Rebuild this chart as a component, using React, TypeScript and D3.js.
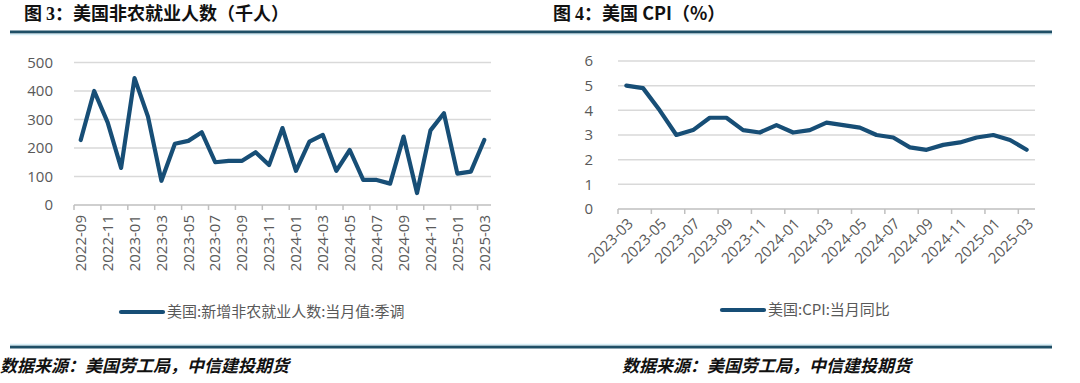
import React from "react";
import * as d3 from "d3";

const nfpMonths = [
  "2022-09","2022-10","2022-11","2022-12","2023-01","2023-02","2023-03","2023-04","2023-05","2023-06",
  "2023-07","2023-08","2023-09","2023-10","2023-11","2023-12","2024-01","2024-02","2024-03","2024-04",
  "2024-05","2024-06","2024-07","2024-08","2024-09","2024-10","2024-11","2024-12","2025-01","2025-02","2025-03",
];
const nfpValues = [
  228, 400, 290, 130, 445, 310, 85, 215, 225, 255,
  150, 155, 155, 185, 140, 270, 120, 222, 246, 120,
  193, 88, 88, 75, 240, 42, 262, 322, 110, 117, 228,
];
const nfpTicks = [0, 100, 200, 300, 400, 500];

const cpiMonths = [
  "2023-03","2023-04","2023-05","2023-06","2023-07","2023-08","2023-09","2023-10","2023-11","2023-12",
  "2024-01","2024-02","2024-03","2024-04","2024-05","2024-06","2024-07","2024-08","2024-09","2024-10",
  "2024-11","2024-12","2025-01","2025-02","2025-03",
];
const cpiValues = [
  5.0, 4.9, 4.0, 3.0, 3.2, 3.7, 3.7, 3.2, 3.1, 3.4,
  3.1, 3.2, 3.5, 3.4, 3.3, 3.0, 2.9, 2.5, 2.4, 2.6,
  2.7, 2.9, 3.0, 2.8, 2.4,
];
const cpiTicks = [0, 1, 2, 3, 4, 5, 6];

const LINE = "#174e76";
const GRID = "#d9d9d9";
const AXIS = "#bfbfbf";
const LABEL = "#595959";
const RULE = "#1f4f66";
const NUMFONT = "'Open Sans', 'Noto Sans', sans-serif";
const CJK = "'Noto Sans CJK SC', sans-serif";
const SERIF = "'Liberation Serif', serif";

function LineChart(props: {
  months: string[];
  values: number[];
  ticks: number[];
  x0: number; x1: number; y0: number; y1: number;
  labelRight: number;
  rotate: number;
  legend: string;
  legendX: number;
  legendY: number;
}) {
  const { months, values, ticks, x0, x1, y0, y1, labelRight, rotate, legend, legendX, legendY } = props;
  const x = d3.scaleBand<string>().domain(months).range([x0, x1]).padding(0);
  const y = d3.scaleLinear().domain([ticks[0], ticks[ticks.length - 1]]).range([y0, y1]);
  const bw = x.bandwidth();
  const line = d3
    .line<number>()
    .x((_, i) => (x(months[i]) as number) + bw / 2)
    .y((d) => y(d))
    .curve(d3.curveLinear);
  const labelIdx = months.map((_, i) => i).filter((i) => i % 2 === 0);
  return (
    <g>
      {ticks.map((t) => (
        <g key={t}>
          {t !== ticks[0] && (
            <line x1={x0} x2={x1} y1={y(t)} y2={y(t)} stroke={GRID} strokeWidth={1.5} />
          )}
          <text x={labelRight} y={y(t)} dy="0.35em" textAnchor="end" fontFamily={NUMFONT} fontSize={15} fill={LABEL}>
            {t}
          </text>
        </g>
      ))}
      <line x1={x0} x2={x1} y1={y0} y2={y0} stroke={AXIS} strokeWidth={1.5} />
      {labelIdx.map((i) => (
        <line key={"t" + i} x1={x(months[i]) as number} x2={x(months[i]) as number} y1={y0} y2={y0 + 5} stroke={AXIS} strokeWidth={1.5} />
      ))}
      {labelIdx.map((i) => {
        const cx = (x(months[i]) as number) + bw / 2;
        if (rotate === -90) {
          return (
            <text key={"l" + i} transform={`translate(${cx},${y0 + 10}) rotate(-90)`} dy="0.35em" textAnchor="end" fontFamily={NUMFONT} fontSize={15} fill={LABEL}>
              {months[i]}
            </text>
          );
        }
        return (
          <text key={"l" + i} transform={`translate(${cx + 4},${y0 + 12}) rotate(-45)`} dy="0.35em" textAnchor="end" fontFamily={NUMFONT} fontSize={15} fill={LABEL}>
            {months[i]}
          </text>
        );
      })}
      <path d={line(values) || ""} fill="none" stroke={LINE} strokeWidth={4.2} strokeLinejoin="round" strokeLinecap="round" />
      <line x1={legendX} x2={legendX + 42} y1={legendY} y2={legendY} stroke={LINE} strokeWidth={4.2} strokeLinecap="round" />
      <text x={legendX + 46} y={legendY} dy="0.35em" fontFamily={CJK} fontSize={15} fill={LABEL}>
        {legend}
      </text>
    </g>
  );
}

export default function App() {
  return (
    <svg width={1080} height={383} style={{ position: "absolute", left: 0, top: 0, background: "#fff" }}>
      <rect width={1080} height={383} fill="#fff" />
      <text x={24} y={20} fontFamily={CJK} fontWeight="bold" fontSize={18} fill="#111">
        图 <tspan fontFamily={SERIF}>3</tspan>：美国非农就业人数（千人）
      </text>
      <text x={553} y={20} fontFamily={CJK} fontWeight="bold" fontSize={18} fill="#111">
        图 <tspan fontFamily={SERIF}>4</tspan>：美国 CPI（%）
      </text>
      <line x1={10} x2={1052} y1={32} y2={32} stroke={RULE} strokeWidth={3} />
      <line x1={10} x2={1052} y1={34.5} y2={34.5} stroke="#d6eef6" strokeWidth={1.5} />
      <LineChart
        months={nfpMonths}
        values={nfpValues}
        ticks={nfpTicks}
        x0={74} x1={491} y0={205} y1={62.5}
        labelRight={53}
        rotate={-90}
        legend="美国:新增非农就业人数:当月值:季调"
        legendX={121}
        legendY={312}
      />
      <LineChart
        months={cpiMonths}
        values={cpiValues}
        ticks={cpiTicks}
        x0={618} x1={1035} y0={209} y1={61}
        labelRight={593}
        rotate={-45}
        legend="美国:CPI:当月同比"
        legendX={722}
        legendY={310}
      />
      <line x1={10} x2={1052} y1={347} y2={347} stroke={RULE} strokeWidth={3} />
      <line x1={10} x2={1052} y1={344.5} y2={344.5} stroke="#d6eef6" strokeWidth={1.5} />
      <text x={0} y={372} fontFamily={CJK} fontWeight="bold" fontStyle="italic" fontSize={17} fill="#111">
        数据来源：美国劳工局，中信建投期货
      </text>
      <text x={622} y={372} fontFamily={CJK} fontWeight="bold" fontStyle="italic" fontSize={17} fill="#111">
        数据来源：美国劳工局，中信建投期货
      </text>
    </svg>
  );
}
